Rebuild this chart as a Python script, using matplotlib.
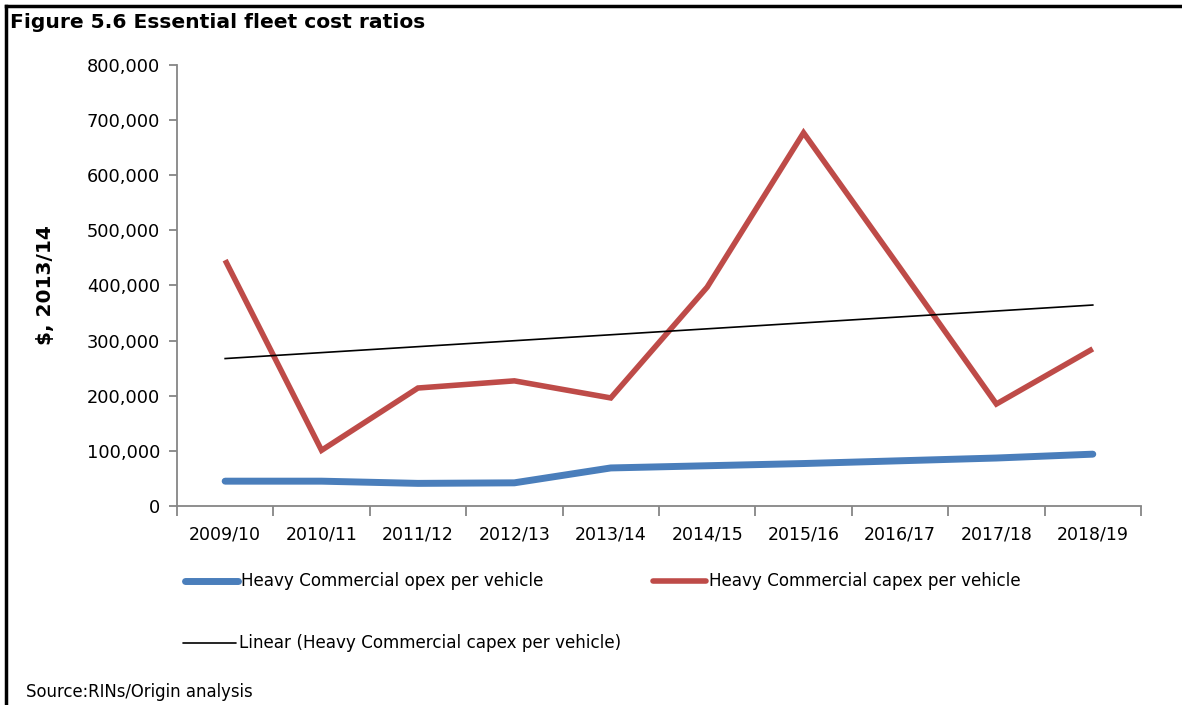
import matplotlib
matplotlib.use("Agg")
import matplotlib.pyplot as plt
import numpy as np
from matplotlib.lines import Line2D
from matplotlib.ticker import FuncFormatter, MultipleLocator

categories = ["2009/10", "2010/11", "2011/12", "2012/13", "2013/14",
              "2014/15", "2015/16", "2016/17", "2017/18", "2018/19"]
opex = [45000, 45000, 41000, 42000, 69000, 73000, 77000, 82000, 87000, 94000]
capex = [446000, 101000, 214000, 227000, 196000, 397000, 677000, 432000, 185000, 285000]

plt.rcParams['font.family'] = ['DejaVu Sans']

fig = plt.figure(figsize=(11.82, 7.05), dpi=100)
ax = fig.add_axes([0.1497, 0.2823, 0.8156, 0.6255])

x = np.arange(len(categories))
blue = "#4a7ebb"
red = "#be4b48"
ax.plot(x, opex, color=blue, lw=5, solid_capstyle='round', solid_joinstyle='round')
ax.plot(x, capex, color=red, lw=4, solid_capstyle='butt', solid_joinstyle='miter')
coef = np.polyfit(x, capex, 1)
ax.plot(x, np.polyval(coef, x), color='black', lw=1.2)

ax.set_xlim(-0.5, len(categories) - 0.5)
ax.set_ylim(0, 800000)
ax.yaxis.set_major_locator(MultipleLocator(100000))
ax.yaxis.set_major_formatter(FuncFormatter(lambda v, p: f"{int(v):,}"))
ax.set_xticks(x)
ax.set_xticklabels(categories)
ax.set_xticks(np.arange(-0.5, len(categories)), minor=True)
ax.tick_params(axis='x', which='major', length=0, labelsize=12.5, pad=14)
ax.tick_params(axis='x', which='minor', length=7, color='#868686', width=1.3)
ax.tick_params(axis='y', length=6, color='#868686', width=1.3, labelsize=12.8, pad=6)
for s in ['top', 'right']:
    ax.spines[s].set_visible(False)
for s in ['left', 'bottom']:
    ax.spines[s].set_color('#868686')
    ax.spines[s].set_linewidth(1.3)

fig.text(45 / 1182, 1 - 285 / 705, "$, 2013/14", rotation=90, fontsize=14.5,
         fontweight='bold', ha='center', va='center')
fig.text(10 / 1182, 1 - 22 / 705, "Figure 5.6 Essential fleet cost ratios",
         fontsize=14.6, fontweight='bold', ha='left', va='center')
fig.text(26 / 1182, 1 - 692 / 705, "Source:RINs/Origin analysis",
         fontsize=11.9, ha='left', va='center')

# legend
def leg(x0, y0, color, lw, label):
    fig.add_artist(Line2D([x0 / 1182, (x0 + 53) / 1182], [1 - y0 / 705, 1 - y0 / 705],
                          color=color, lw=lw, solid_capstyle='round', transform=fig.transFigure))
    fig.text((x0 + 56) / 1182, 1 - y0 / 705, label, fontsize=12.1, ha='left', va='center')

leg(185, 581, blue, 5, "Heavy Commercial opex per vehicle")
leg(653, 581, red, 4, "Heavy Commercial capex per vehicle")
leg(183, 643, 'black', 1.2, "Linear (Heavy Commercial capex per vehicle)")

# border
fig.add_artist(Line2D([6 / 1182, 6 / 1182], [0, 1 - 6 / 705], color='black', lw=2.5,
                      transform=fig.transFigure))
fig.add_artist(Line2D([6 / 1182, 1], [1 - 6 / 705, 1 - 6 / 705], color='black', lw=2.5,
                      transform=fig.transFigure))

fig.savefig("out.png", dpi=100)
